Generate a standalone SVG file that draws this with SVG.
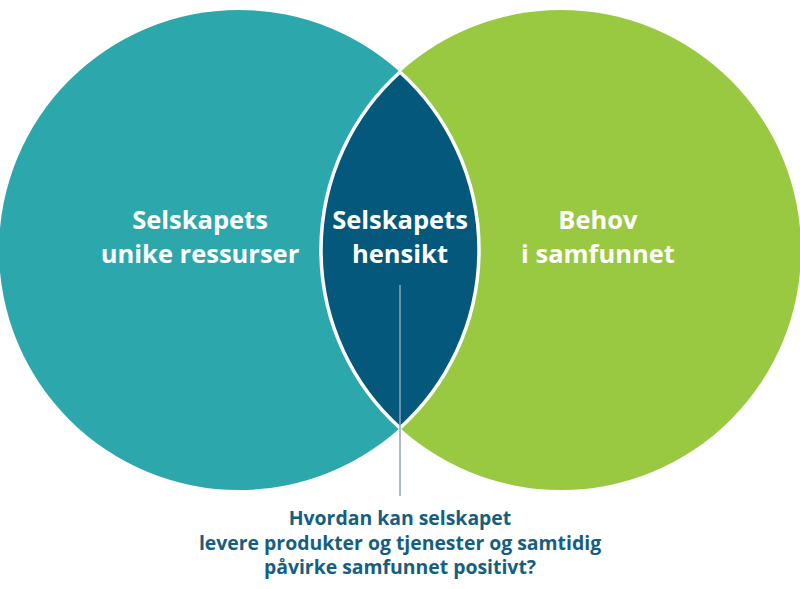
<svg xmlns="http://www.w3.org/2000/svg" width="800" height="589" viewBox="0 0 800 589">
<style>
.lbl{font-family:"Open Sans","Liberation Sans",sans-serif;font-weight:700;font-size:25.5px;fill:#ffffff;text-anchor:middle}
.q{font-family:"Open Sans","Liberation Sans",sans-serif;font-weight:700;font-size:19.4px;fill:#155e80;text-anchor:middle}
</style>
<defs>
<clipPath id="clipL"><circle cx="239" cy="250" r="240"/></clipPath>
</defs>
<rect width="800" height="589" fill="#ffffff"/>
<g id="left">
<circle cx="239" cy="250" r="240" fill="#2ca8ad"/>
</g>
<g id="right">
<circle cx="561" cy="250" r="240" fill="#99c841"/>
</g>
<g id="center">
<circle cx="561" cy="250" r="240" clip-path="url(#clipL)" fill="#03587c"/>
<path d="M400,72 A240,240 0 0 1 400,428 A240,240 0 0 1 400,72 Z" fill="none" stroke="#ffffff" stroke-width="3.5"/>
</g>
<g id="connectors">
<line x1="400" y1="285" x2="400" y2="496" stroke="#8ea5b7" stroke-width="1.5"/>
</g>
<g id="labels">
<text class="lbl" x="200" y="229">Selskapets</text>
<text class="lbl" x="200" y="263">unike ressurser</text>
<text class="lbl" x="400" y="229">Selskapets</text>
<text class="lbl" x="400" y="263">hensikt</text>
<text class="lbl" x="598" y="229">Behov</text>
<text class="lbl" x="598" y="263">i samfunnet</text>
<text class="q" x="400" y="525">Hvordan kan selskapet</text>
<text class="q" x="400" y="549.5">levere produkter og tjenester og samtidig</text>
<text class="q" x="400" y="574">påvirke samfunnet positivt?</text>
</g>
</svg>
